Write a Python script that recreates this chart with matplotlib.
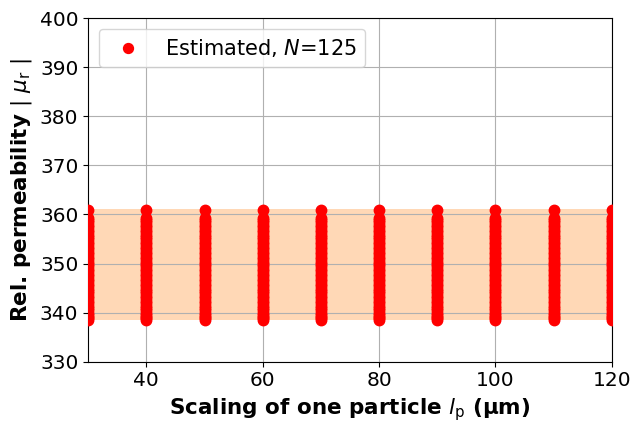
import numpy as np
import matplotlib
matplotlib.use("Agg")
import matplotlib.pyplot as plt

# particle scalings (um)
scalings = [30, 40, 50, 60, 70, 80, 90, 100, 110, 120]

# estimated relative permeability of the particles (same set at every scaling)
mu_est = [338.5, 338.8, 339.2, 339.6, 340.0, 340.5, 341.0, 341.4, 341.9, 342.4,
          342.9, 343.4, 343.9, 344.4, 344.9, 345.4, 345.9, 346.4, 346.9, 347.4,
          347.9, 348.4, 348.9, 349.4, 349.9, 350.4, 350.9, 351.4, 351.9, 352.4,
          352.9, 353.4, 353.9, 354.4, 354.9, 355.4, 355.9, 356.4, 356.9, 357.4,
          357.9, 358.4, 358.9, 359.2, 360.9]

band_low = 338.4
band_high = 361.1
n_particles = 125

fig = plt.figure(figsize=(6.34, 4.23), dpi=100)
ax = fig.add_axes([0.139, 0.145, 0.826, 0.812])

ax.fill_between([30, 120], [band_low, band_low], [band_high, band_high],
                color="C1", alpha=0.3, linewidth=0)

for i, s in enumerate(scalings):
    lab = r"Estimated, $N$=%d" % n_particles if i == 0 else None
    ax.plot([s] * len(mu_est), mu_est, "o", color="r", markersize=7.5,
            label=lab, zorder=3)

ax.set_xlim(30, 120)
ax.set_ylim(330, 400)
ax.set_xticks([40, 60, 80, 100, 120])
ax.set_yticks(np.arange(330, 401, 10))
ax.tick_params(labelsize=14.5)
ax.grid(True)

ax.set_xlabel(r"Scaling of one particle $l_\mathrm{p}$ (µm)", fontsize=15.5,
              fontweight="bold")
ax.set_ylabel(r"Rel. permeability $|\ \mu_\mathrm{r}\ |$", fontsize=15.5,
              fontweight="bold")

ax.legend(loc="upper left", fontsize=15, markerscale=0.95)

fig.savefig("out.png", dpi=100)
